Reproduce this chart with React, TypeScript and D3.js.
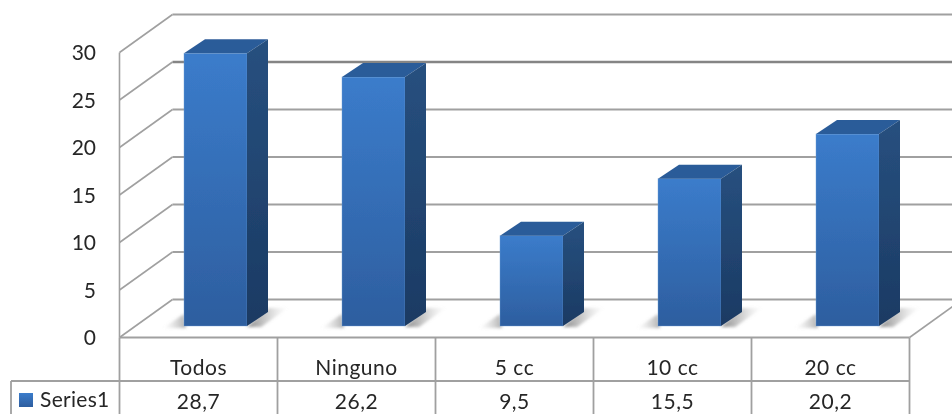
import React from "react";
import * as d3 from "d3";

const categories = ["Todos", "Ninguno", "5 cc", "10 cc", "20 cc"];
const values = [28.7, 26.2, 9.5, 15.5, 20.2];
const valueLabels = ["28,7", "26,2", "9,5", "15,5", "20,2"];
const ticks = [0, 5, 10, 15, 20, 25, 30];
const seriesName = "Series1";

const width = 952;
const height = 414;

// 3d offsets of the chart box and of the bars
const wallDx = 53;
const wallDy = -38;
const barDx = 21;
const barDy = -14;
const barFloor = -11.5; // bars stand this far up the floor from the front edge

const gridColor = "#a0a0a0";
const textColor = "#262626";

export default function App() {
  const x = d3.scaleBand<string>().domain(categories).range([119.5, 909.5]);
  const y = d3.scaleLinear().domain([0, 30]).range([337.5, 52.5]);
  const barWidth = 63;
  const barLeft = (c: string) => (x(c) as number) + 64.5;
  const tableBottom = 420;
  const rowY = 381;

  return (
    <svg
      width={width}
      height={height}
      style={{ position: "absolute", left: 0, top: 0, background: "#fff" }}
      fontFamily="Lato, 'Open Sans', sans-serif"
    >
      <defs>
        <linearGradient id="front" x1="0" y1="0" x2="0" y2="1">
          <stop offset="0" stopColor="#3b7ccb" />
          <stop offset="1" stopColor="#2d5e9f" />
        </linearGradient>
        <linearGradient id="side" x1="0" y1="0" x2="0" y2="1">
          <stop offset="0" stopColor="#27507f" />
          <stop offset="1" stopColor="#1b3a63" />
        </linearGradient>
        <linearGradient id="shadowRight" x1="0" y1="0" x2="1" y2="0">
          <stop offset="0" stopColor="#555" stopOpacity="0.7" />
          <stop offset="0.5" stopColor="#888" stopOpacity="0.4" />
          <stop offset="1" stopColor="#bbb" stopOpacity="0" />
        </linearGradient>
        <linearGradient id="shadowLeft" x1="1" y1="0" x2="0" y2="0">
          <stop offset="0" stopColor="#777" stopOpacity="0.6" />
          <stop offset="1" stopColor="#bbb" stopOpacity="0" />
        </linearGradient>
        <linearGradient id="swatch" x1="0" y1="0" x2="0" y2="1">
          <stop offset="0" stopColor="#3b7ccb" />
          <stop offset="1" stopColor="#2d5e9f" />
        </linearGradient>
        <filter id="soft" x="-5%" y="-5%" width="110%" height="110%">
          <feGaussianBlur stdDeviation="0.5" />
        </filter>
        <filter id="shadowBlur" x="-30%" y="-30%" width="160%" height="160%">
          <feGaussianBlur stdDeviation="1.5" />
        </filter>
      </defs>

      <g filter="url(#soft)">
        {/* walls */}
        <g fill="none" stroke={gridColor} strokeWidth={1.6}>
          {ticks.map((t) => (
            <g key={t}>
              <line x1={119.5} x2={119.5 + wallDx} y1={y(t)} y2={y(t) + wallDy} />
              <line
                x1={119.5 + wallDx}
                x2={909.5 + wallDx}
                y1={y(t) + wallDy}
                y2={y(t) + wallDy}
                strokeWidth={t === 25 ? 2.6 : 2}
                stroke={t === 25 ? "#858585" : gridColor}
              />
            </g>
          ))}
          <line x1={119.5} x2={119.5} y1={y(0)} y2={y(30)} />
          <line x1={909.5} x2={909.5 + wallDx} y1={y(0)} y2={y(0) + wallDy} />
        </g>

        {/* bars */}
        {categories.map((c, i) => {
          const left = barLeft(c);
          const right = left + barWidth;
          const base = y(0) + barFloor;
          const top = y(values[i]) + barFloor;
          return (
            <g key={c}>
              <polygon
                points={`${left - 21},${base + 2} ${left},${base - 12} ${left + 2},${base + 2}`}
                fill="url(#shadowLeft)"
                filter="url(#shadowBlur)"
              />
              <polygon
                points={`${right},${base + 1} ${right + barDx},${base + barDy - 4} ${right + 41},${base + barDy - 4} ${right + 14},${base + 1}`}
                fill="url(#shadowRight)"
                filter="url(#shadowBlur)"
              />
              <rect
                x={left}
                y={top}
                width={barWidth}
                height={base - top}
                fill="url(#front)"
                stroke="#6f9fd8"
                strokeOpacity={0.5}
                strokeWidth={0.8}
              />
              <polygon
                points={`${left},${top} ${left + barDx},${top + barDy} ${right + barDx},${top + barDy} ${right},${top}`}
                fill="#2b5c99"
              />
              <polygon
                points={`${right},${top} ${right + barDx},${top + barDy} ${right + barDx},${base + barDy} ${right},${base}`}
                fill="url(#side)"
              />
            </g>
          );
        })}

        {/* data table */}
        <g stroke={gridColor} strokeWidth={1.8} fill="none">
          <line x1={119.5} x2={909.5} y1={y(0)} y2={y(0)} />
          <line x1={11} x2={909.5} y1={rowY} y2={rowY} />
          <line x1={11} x2={11} y1={rowY} y2={tableBottom} />
          <line x1={119.5} x2={119.5} y1={y(0)} y2={tableBottom} />
          {categories.map((c) => (
            <line
              key={c}
              x1={(x(c) as number) + x.bandwidth()}
              x2={(x(c) as number) + x.bandwidth()}
              y1={y(0)}
              y2={tableBottom}
            />
          ))}
        </g>

        {/* tick labels */}
        <g fill={textColor} fontSize={21} textAnchor="end">
          {ticks.map((t) => (
            <text key={t} x={96} y={y(t) + 7.5}>
              {t}
            </text>
          ))}
        </g>

        {/* table text */}
        <g fill={textColor} fontSize={21} letterSpacing={0.5} textAnchor="middle">
          {categories.map((c, i) => (
            <g key={c}>
              <text x={(x(c) as number) + x.bandwidth() / 2} y={375}>
                {c}
              </text>
              <text x={(x(c) as number) + x.bandwidth() / 2} y={409}>
                {valueLabels[i]}
              </text>
            </g>
          ))}
        </g>
        <rect x={19} y={393} width={14} height={14} fill="url(#swatch)" />
        <text x={40} y={407} fontSize={21} letterSpacing={0.3} fill={textColor}>
          {seriesName}
        </text>
      </g>
    </svg>
  );
}
